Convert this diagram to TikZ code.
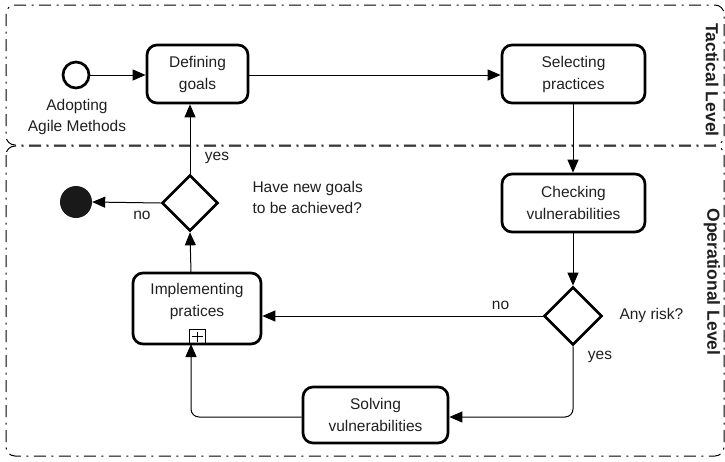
\documentclass[tikz,border=0pt]{standalone}
\usepackage{fontspec}
\setmainfont{Liberation Sans}
\usetikzlibrary{arrows.meta,shapes.geometric}

\begin{document}
\begin{tikzpicture}[
  x=1pt, y=-1pt,
  txt/.style={font=\fontsize{15.5}{22}\selectfont, text=black!88},
  note/.style={font=\fontsize{15.5}{21}\selectfont, text=black!88},
  task/.style={txt, draw, line width=2.7pt, rounded corners=10pt, align=center, inner sep=0pt},
  gate/.style={draw, diamond, line width=2.7pt, inner sep=0pt, aspect=1},
  flow/.style={line width=1pt, -{Triangle[length=13pt,width=11pt]}},
  lane/.style={draw=black, line width=1pt, rounded corners=9pt,
    dash pattern=on 12pt off 5.5pt on 2pt off 5.5pt},
  lanelabel/.style={font=\fontsize{17.5}{20}\selectfont\bfseries, rotate=-90, text=black!88}
]
\useasboundingbox (0,0) rectangle (725,461);

% pools / lanes
\draw[lane] (6,5) rectangle (724,145);
\draw[lane] (6,146) rectangle (724,456);
\node[lanelabel] (tact) at (712,80) {Tactical Level};
\node[lanelabel] (oper) at (712,282) {Operational Level};

% events
\node[draw, circle, line width=2.7pt, minimum size=26pt, inner sep=0pt] (start) at (76,75) {};
\node[note, align=center, anchor=north] (startlbl) at (77,96) {Adopting\\Agile Methods};
\node[fill=black!90, circle, minimum size=32pt, inner sep=0pt] (end) at (76,202) {};

% tasks
\node[task, minimum width=101pt, minimum height=58pt] (def) at (197.5,74) {Defining\\goals};
\node[task, minimum width=143pt, minimum height=58pt] (sel) at (573.5,74) {Selecting\\practices};
\node[task, minimum width=143pt, minimum height=58pt] (chk) at (573.5,203) {Checking\\vulnerabilities};
\node[task, minimum width=128pt, minimum height=71pt,
  label={[txt, align=center, yshift=7pt]center:Implementing\\pratices}] (impl) at (197,308.5) {};
\node[task, minimum width=145pt, minimum height=56pt] (solve) at (375.5,415) {Solving\\vulnerabilities};

% sub-process marker
\node[draw, line width=0.9pt, minimum width=16pt, minimum height=14pt, inner sep=0pt,
  anchor=south, yshift=1.3pt,
  path picture={\draw[line width=0.9pt]
    ([yshift=-2pt]path picture bounding box.north) -- ([yshift=2pt]path picture bounding box.south)
    ([xshift=2.5pt]path picture bounding box.west) -- ([xshift=-2.5pt]path picture bounding box.east);}
  ] (marker) at (impl.south) {};

% gateways
\node[gate, minimum width=56pt, minimum height=56pt] (g1) at (190,203) {};
\node[gate, minimum width=58pt, minimum height=58pt] (g2) at (573,316) {};

% gateway annotations
\node[note, align=left, anchor=west] (g1q) at (249,197.5) {Have new goals\\to be achieved?};
\node[note, anchor=west] (g2q) at (616,315) {Any risk?};

% sequence flows
\draw[flow] (start) -- (def.west |- start);
\draw[flow] (def.east |- 0,75) -- (sel.west |- 0,75);
\draw[flow] (sel.south -| g2) -- (chk.north -| g2);
\draw[flow] (chk.south -| g2) -- (g2.north);
\draw[flow] (g2.west) -- (impl.east |- g2.west) node[note, pos=0.15, above=3pt] (no2) {no};
\draw[flow, rounded corners=8pt] (g2.south) -- (g2.south |- 0,417) -- (solve.east |- 0,417);
\node[note] (yes2) at (600,357) {yes};
\draw[flow, rounded corners=8pt] (solve.west |- 0,417) -- (191,417) -- (191,344);
\draw[flow] (191,273) -- (g1.south);
\draw[flow] (g1.north) -- (g1.north |- def.south);
\node[note] (yes1) at (217,158) {yes};
\draw[flow] (g1.west) -- (end.east);
\node[note] (no1) at (142,215) {no};
\end{tikzpicture}
\end{document}
